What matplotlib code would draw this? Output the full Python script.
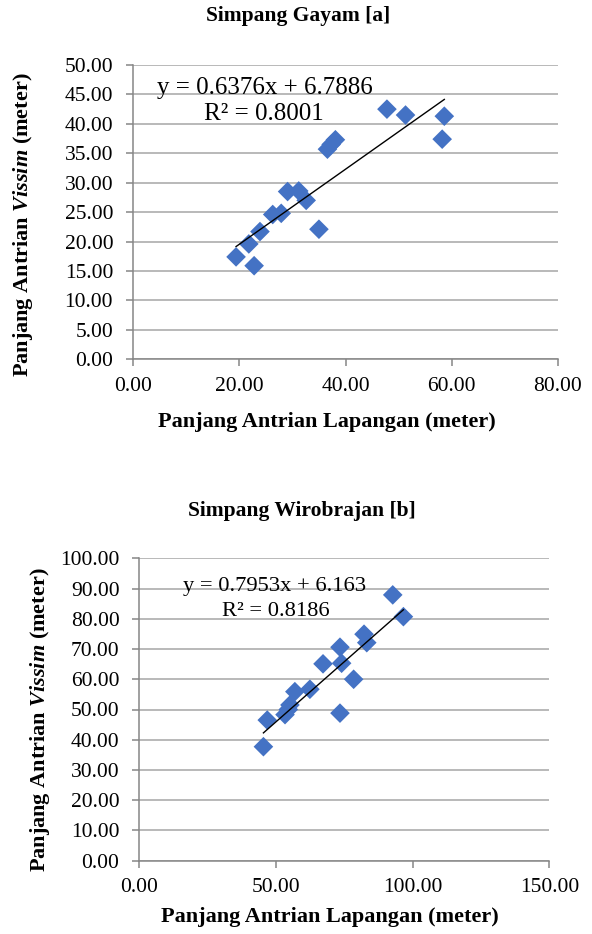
import numpy as np
import matplotlib
matplotlib.use("Agg")
import matplotlib.pyplot as plt

plt.rcParams['font.family'] = ['Liberation Serif', 'DejaVu Serif']
plt.rcParams['mathtext.fontset'] = 'custom'
plt.rcParams['mathtext.rm'] = 'Liberation Serif'
plt.rcParams['mathtext.it'] = 'Liberation Serif:italic'
plt.rcParams['mathtext.bf'] = 'Liberation Serif:bold'
plt.rcParams['mathtext.bfit'] = 'Liberation Serif:italic:bold'

# Simpang Gayam [a]
lap_a = [19.4, 22.8, 21.8, 23.9, 26.3, 27.9, 29.1, 31.2, 32.6, 35.0,
         36.6, 37.3, 38.1, 47.8, 51.3, 58.6, 58.2]
vis_a = [17.4, 15.9, 19.6, 21.7, 24.6, 24.8, 28.5, 28.6, 27.0, 22.1,
         35.7, 36.5, 37.3, 42.5, 41.5, 41.3, 37.4]
coef_a = (0.6376, 6.7886)
r2_a = 0.8001

# Simpang Wirobrajan [b]
lap_b = [45.4, 46.8, 53.3, 54.5, 55.1, 56.9, 62.4, 67.2, 73.4, 74.0,
         73.4, 78.4, 82.2, 83.2, 92.7, 96.6]
vis_b = [37.7, 46.5, 48.3, 50.0, 51.5, 55.9, 56.7, 65.1, 70.6, 65.3,
         48.8, 60.0, 74.9, 72.1, 87.9, 80.7]
coef_b = (0.7953, 6.163)
r2_b = 0.8186

blue = '#4472C4'
grid_c = '#a6a6a6'
axis_c = '#868686'

fig = plt.figure(figsize=(5.92, 9.34), dpi=100)
W, H = 592, 934


def px_axes(l, t, r, b):
    return fig.add_axes([l / W, 1 - b / H, (r - l) / W, (b - t) / H])


def style(ax, xmax, xstep, ymax, ystep):
    ax.set_xlim(0, xmax)
    ax.set_ylim(0, ymax)
    ax.set_xticks(np.arange(0, xmax + 0.1, xstep))
    ax.set_yticks(np.arange(0, ymax + 0.1, ystep))
    ax.xaxis.set_major_formatter(matplotlib.ticker.FormatStrFormatter('%.2f'))
    ax.yaxis.set_major_formatter(matplotlib.ticker.FormatStrFormatter('%.2f'))
    ax.grid(axis='y', color=grid_c, linewidth=1.1)
    ax.set_axisbelow(True)
    for s in ['top', 'right']:
        ax.spines[s].set_visible(False)
    for s in ['left', 'bottom']:
        ax.spines[s].set_color(axis_c)
        ax.spines[s].set_linewidth(1.1)
    ax.tick_params(axis='both', colors=axis_c, length=4.8, width=1.1,
                   labelsize=15.5, labelcolor='black')
    ax.tick_params(axis='y', pad=9.5)
    ax.tick_params(axis='x', pad=8)


def panel(ax, x, y, coef, r2, eq_pos, r2_pos, eq_size):
    ax.scatter(x, y, marker='D', s=100, color=blue, edgecolors='none', zorder=3)
    xs = np.array([min(x), max(x)])
    ax.plot(xs, coef[0] * xs + coef[1], color='black', linewidth=1.0, zorder=4)
    ax.text(eq_pos[0], eq_pos[1], f'y = {coef[0]}x + {coef[1]}', fontsize=eq_size,
            ha='center', va='center', zorder=5)
    ax.text(r2_pos[0], r2_pos[1], f'R² = {r2:.4f}', fontsize=eq_size,
            ha='center', va='center', zorder=5)


ax1 = px_axes(133, 65, 558, 359.3)
style(ax1, 80, 20, 50, 5)
panel(ax1, lap_a, vis_a, coef_a, r2_a, (24.8, 46.1), (24.6, 41.6), 18)

ax2 = px_axes(139.3, 558.3, 549.4, 860.7)
style(ax2, 150, 50, 100, 10)
panel(ax2, lap_b, vis_b, coef_b, r2_b, (49.6, 90.6), (49.8, 82.4), 16.2)

fig.text(298 / W, 1 - 16 / H, 'Simpang Gayam [a]', fontsize=15.5,
         fontweight='bold', ha='center', va='center')
fig.text(302 / W, 1 - 511 / H, 'Simpang Wirobrajan [b]', fontsize=15.5,
         fontweight='bold', ha='center', va='center')

xlab = 'Panjang Antrian Lapangan (meter)'
ylab = r'Panjang Antrian $\mathbfit{Vissim}$ (meter)'
fig.text(327 / W, 1 - 422 / H, xlab, fontsize=16, fontweight='bold',
         ha='center', va='center')
fig.text(330 / W, 1 - 917 / H, xlab, fontsize=16, fontweight='bold',
         ha='center', va='center')
fig.text(23 / W, 1 - 225 / H, ylab, fontsize=16, fontweight='bold',
         rotation=90, ha='center', va='center')
fig.text(40 / W, 1 - 720 / H, ylab, fontsize=16, fontweight='bold',
         rotation=90, ha='center', va='center')

fig.savefig('out.png', dpi=100)
